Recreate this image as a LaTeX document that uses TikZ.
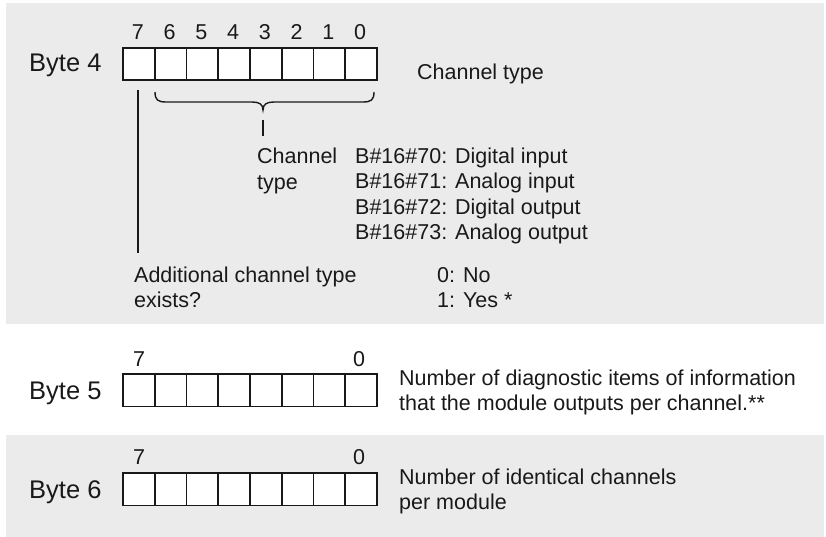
\documentclass[tikz,border=0pt]{standalone}
\usepackage{fontspec}
\setmainfont{Liberation Sans}
\definecolor{panelgray}{RGB}{235,235,235}
\definecolor{ink}{RGB}{25,25,25}
\begin{document}
\begin{tikzpicture}[x=1bp,y=-1bp,
  txt/.style={anchor=base west,inner sep=0pt,text=ink,font=\fontsize{21.5bp}{25.5bp}\selectfont},
  bytelbl/.style={anchor=base west,inner sep=0pt,text=ink,font=\fontsize{25.5bp}{30bp}\selectfont},
  bitnum/.style={anchor=base,inner sep=0pt,text=ink,font=\fontsize{21.5bp}{25.5bp}\selectfont},
  cell/.style={draw=ink,line width=1.9bp,fill=white,minimum width=31.75bp,minimum height=32.5bp,inner sep=0pt,anchor=north west},
  panel/.style={fill=panelgray,draw=none},
  conn/.style={draw=ink,line width=1.8bp}]
\useasboundingbox (0,0) rectangle (826,537);
\fill[panel] (6,3) rectangle (824,324);
\fill[panel] (6,435) rectangle (824,537);

% Byte 4
\node[bytelbl] (b4lbl) at (29,72) {Byte 4};
\foreach \k in {0,...,7} {
  \pgfmathtruncatemacro\bitv{7-\k}
  \node[cell] (b4c\k) at ({122+31.75*\k},47) {};
  \node[bitnum] (b4n\k) at ({122+31.75*(\k+0.5)},40) {\bitv};
}
\node[txt] (b4desc) at (417,79.5) {Channel type};

% brace under bits 6..0
\coordinate (brL) at (155,92);
\coordinate (brR) at (374,92);
\coordinate (brTip) at (263,110);
\draw[conn,line width=1.4bp] (brL) .. controls (155,100) and (158,102) .. (166,102) -- (252,102)
  .. controls (259,102) and (263,104) .. (brTip)
  .. controls (263,104) and (267,102) .. (274,102) -- (363,102)
  .. controls (371,102) and (374,100) .. (brR);
\coordinate (tickTop) at (263,120);
\coordinate (tickBot) at (263,136);
\draw[conn] (tickTop) -- (tickBot);

% vertical line from bit 7
\coordinate (vTop) at (138,90);
\coordinate (vBot) at (138,253);
\draw[conn] (vTop) -- (vBot);

\node[txt] (ct1) at (257,163.5) {Channel};
\node[txt] (ct2) at (257,189.5) {type};
\node[txt] (v70) at (355,163.5) {B\#16\#70: Digital input};
\node[txt] (v71) at (355,189) {B\#16\#71: Analog input};
\node[txt] (v72) at (355,214.5) {B\#16\#72: Digital output};
\node[txt] (v73) at (355,240) {B\#16\#73: Analog output};

\node[txt] (add1) at (134,283) {Additional channel type};
\node[txt] (add2) at (134,308) {exists?};
\node[txt] (no) at (437,283) {0: No};
\node[txt] (yes) at (437,308) {1: Yes *};

% Byte 5
\node[bytelbl] (b5lbl) at (29,399) {Byte 5};
\foreach \k in {0,...,7} {
  \node[cell] (b5c\k) at ({122+31.75*\k},373) {};
}
\node[bitnum] (b5n7) at (139,366) {7};
\node[bitnum] (b5n0) at (359,366) {0};
\node[txt] (b5d1) at (399,385) {Number of diagnostic items of information};
\node[txt] (b5d2) at (399,410) {that the module outputs per channel.**};

% Byte 6
\node[bytelbl] (b6lbl) at (29,498) {Byte 6};
\foreach \k in {0,...,7} {
  \node[cell] (b6c\k) at ({122+31.75*\k},472) {};
}
\node[bitnum] (b6n7) at (139,464) {7};
\node[bitnum] (b6n0) at (359,464) {0};
\node[txt] (b6d1) at (399,484) {Number of identical channels};
\node[txt] (b6d2) at (399,509.5) {per module};
\end{tikzpicture}
\end{document}
